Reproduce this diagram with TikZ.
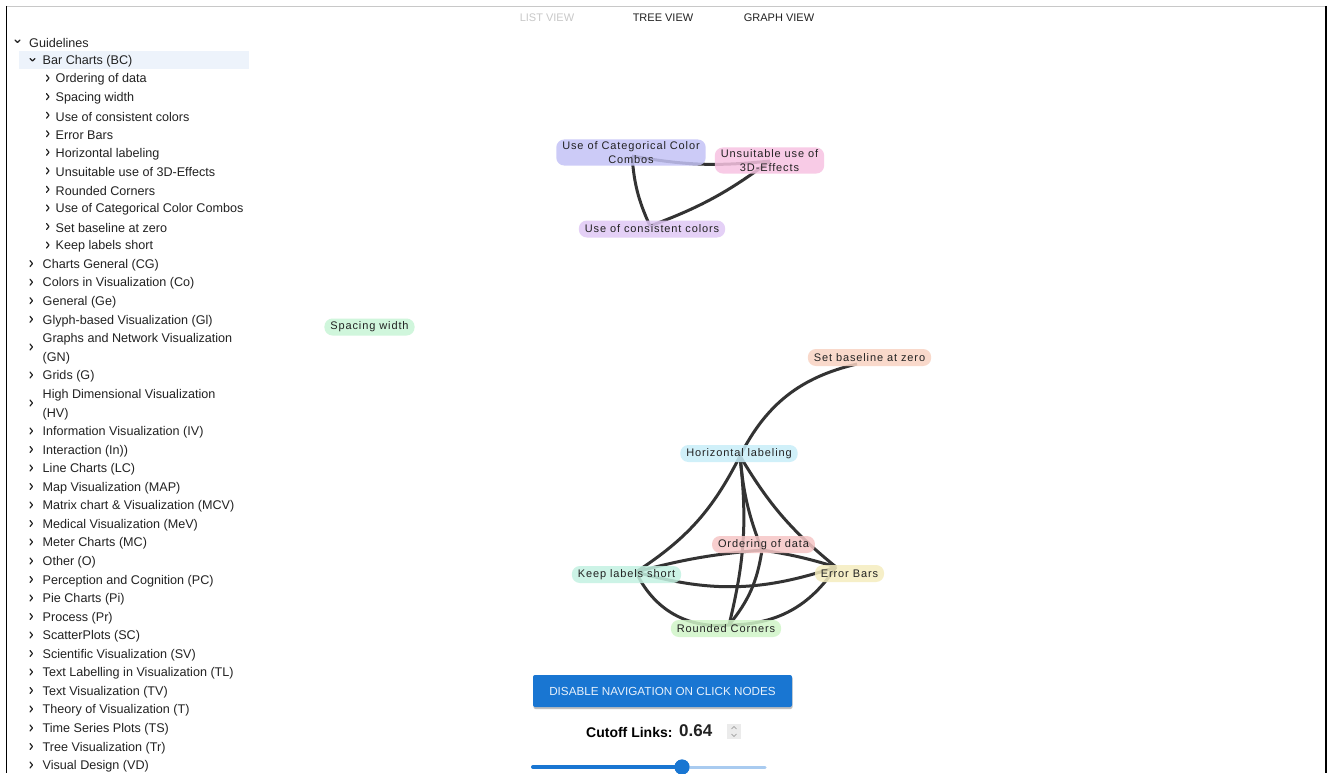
\documentclass[tikz,border=0pt]{standalone}
\usepackage{fontspec}
\setmainfont{Liberation Sans}
\newfontfamily\gfont[LetterSpace=8]{Liberation Sans}
\definecolor{txt}{HTML}{222222}
\definecolor{hlrow}{HTML}{EDF3FB}
\definecolor{edgec}{HTML}{333333}
\definecolor{cCat}{HTML}{C4C3F6}
\definecolor{cUns}{HTML}{F7C3E2}
\definecolor{cCons}{HTML}{E0C8F5}
\definecolor{cSpace}{HTML}{C8F5D6}
\definecolor{cSet}{HTML}{F8D3C3}
\definecolor{cHL}{HTML}{C8EEF9}
\definecolor{cOrd}{HTML}{F6C6C6}
\definecolor{cKeep}{HTML}{C4F2E2}
\definecolor{cErr}{HTML}{F5EDBF}
\definecolor{cRound}{HTML}{D0F5C8}
\definecolor{btnblue}{HTML}{1976D2}
\definecolor{btntxt}{HTML}{E6F0FB}
\definecolor{trackl}{HTML}{A9CBF0}
\definecolor{tabgray}{HTML}{C8C8C8}
\begin{document}
\begin{tikzpicture}[x=1pt,y=-1pt,
  treetxt/.style={anchor=west,inner sep=0pt,yshift=-1.5pt,text=txt,font=\fontsize{12.6}{15}\selectfont},
  tabtxt/.style={inner sep=0pt,font=\fontsize{11}{13}\selectfont},
  chev/.style={draw=txt,line width=1.2pt,line cap=round,line join=round},
  gn/.style={rounded corners=8pt,inner xsep=6pt,inner ysep=2pt,minimum height=17pt,
     fill opacity=0.85,text opacity=1,text=txt,align=center,
     font=\gfont\fontsize{11}{14}\selectfont},
  link/.style={draw=edgec,line width=3pt}]
\useasboundingbox (0,0) rectangle (1329,773);
\fill[white] (0,0) rectangle (1329,773);
% frame
\draw[tabgray,line width=1pt] (6,6.5) -- (1326,6.5);
\draw[black,line width=1.3pt] (6.5,6) -- (6.5,773);
\draw[black,line width=1.3pt] (1326,6) -- (1326,773);
% tabs
\node[tabtxt,text=tabgray] (tlist) at (547,18) {LIST VIEW};
\node[tabtxt,text=txt] (ttree) at (663,18) {TREE VIEW};
\node[tabtxt,text=txt] (tgraph) at (779,18) {GRAPH VIEW};
% tree
\fill[hlrow] (19,51) rectangle (249,69);
\draw[chev] (15,40) -- (17.5,42.5) -- (20,40);
\node[treetxt] (tg) at (29,41) {Guidelines};
\draw[chev] (30,58.5) -- (32.5,61) -- (35,58.5);
\node[treetxt] (tbc) at (42.5,59.5) {Bar Charts (BC)};
\foreach \t [count=\i from 2] in {Ordering of data,Spacing width,Use of consistent colors,Error Bars,Horizontal labeling,Unsuitable use of 3D-Effects,Rounded Corners,Use of Categorical Color Combos,Set baseline at zero,Keep labels short}{
  \pgfmathsetmacro{\yy}{41+18.55*\i}
  \draw[chev] (46.5,\yy-3) -- (49,\yy) -- (46.5,\yy+3);
  \node[treetxt] (ts\i) at (55.5,\yy) {\t};
}
\foreach \yy/\t [count=\i] in {263.6/Charts General (CG),282.2/Colors in Visualization (Co),300.7/General (Ge),319.3/Glyph-based Visualization (Gl),375/Grids (G),431/Information Visualization (IV),449.5/Interaction (In)),468/Line Charts (LC),486.5/Map Visualization (MAP),505/Matrix chart \& Visualization (MCV),523.5/Medical Visualization (MeV),542/Meter Charts (MC),561/Other (O),579.5/Perception and Cognition (PC),598/Pie Charts (Pi),616.5/Process (Pr),635/ScatterPlots (SC),653.5/Scientific Visualization (SV),672/Text Labelling in Visualization (TL),690.5/Text Visualization (TV),709/Theory of Visualization (T),728/Time Series Plots (TS),746.5/Tree Visualization (Tr),765/Visual Design (VD)}{
  \draw[chev] (30,\yy-3) -- (32.5,\yy) -- (30,\yy+3);
  \node[treetxt] (tc\i) at (42.5,\yy) {\t};
}
\draw[chev] (30,344) -- (32.5,347) -- (30,350);
\node[treetxt] (tgn1) at (42.5,338) {Graphs and Network Visualization};
\node[treetxt] (tgn2) at (42.5,356.5) {(GN)};
\draw[chev] (30,400) -- (32.5,403) -- (30,406);
\node[treetxt] (thv1) at (42.5,394) {High Dimensional Visualization};
\node[treetxt] (thv2) at (42.5,412.5) {(HV)};
% graph anchors
\coordinate (aCat) at (632,156);
\coordinate (aUns) at (770,161);
\coordinate (aCons) at (650,226);
\coordinate (aSet) at (857,364);
\coordinate (aHL) at (740,456);
\coordinate (aOrd) at (762,550);
\coordinate (aKeep) at (636,572);
\coordinate (aErr) at (836,567);
\coordinate (aRound) at (729,625);
% links
\draw[link] (aCat) to[bend right=10] (aCons);
\draw[link] (aUns) to[bend left=8] (aCons);
\draw[link] (aCat) to[bend right=8] (aUns);
\draw[link] (aSet) to[bend right=25] (aHL);
\draw[link] (aHL) to[bend left=15] (aKeep);
\draw[link] (aHL) to[bend left=10] (aRound);
\draw[link] (aHL) to[bend right=8] (aOrd);
\draw[link] (aHL) to[bend right=10] (aErr);
\draw[link] (aOrd) to[bend left=15] (aRound);
\draw[link] (aOrd) to[bend left=4] (aErr);
\draw[link] (aKeep) to[bend left=5] (aOrd);
\draw[link] (aKeep) to[bend right=17] (aErr);
\draw[link] (aKeep) to[bend right=35] (aRound);
\draw[link] (aErr) to[bend left=28] (aRound);
% graph nodes
\node[gn,fill=cCat] (cat) at (631,152.5) {Use of Categorical Color\\Combos};
\node[gn,fill=cUns] (uns) at (769.5,160.5) {Unsuitable use of\\3D-Effects};
\node[gn,fill=cCons] (cons) at (652,229) {Use of consistent colors};
\node[gn,fill=cSpace] (space) at (369.5,327) {Spacing width};
\node[gn,fill=cSet] (set) at (869.5,357.5) {Set baseline at zero};
\node[gn,fill=cHL] (hl) at (739,453.5) {Horizontal labeling};
\node[gn,fill=cOrd] (ord) at (763.5,544.5) {Ordering of data};
\node[gn,fill=cKeep] (keep) at (626.5,574.5) {Keep labels short};
\node[gn,fill=cErr] (err) at (849.5,573.5) {Error Bars};
\node[gn,fill=cRound] (round) at (726,628.5) {Rounded Corners};
% button
\fill[black!25,rounded corners=2pt] (533.5,676.5) rectangle (792.5,709);
\node[fill=btnblue,rounded corners=2pt,minimum width=259pt,minimum height=32pt,inner sep=0pt,
  text=btntxt,font=\fontsize{11.7}{14}\selectfont] (btn) at (662.5,691) {DISABLE NAVIGATION ON CLICK NODES};
% cutoff
\node[inner sep=0pt,anchor=west,text=black,font=\bfseries\fontsize{14}{16}\selectfont] (cut) at (586,732.5) {Cutoff Links:};
\node[inner sep=0pt,anchor=west,text=txt,font=\bfseries\fontsize{17}{19}\selectfont] (val) at (679,731) {0.64};
\node[fill=black!8,minimum width=14pt,minimum height=15pt,inner sep=0pt] (spin) at (734,731.5) {};
\draw[black!45,line width=0.6pt] (731.5,729) -- (734,726.5) -- (736.5,729);
\draw[black!45,line width=0.6pt] (731.5,734) -- (734,736.5) -- (736.5,734);
% slider
\coordinate (sl0) at (533,767);
\coordinate (sl1) at (765,767);
\node[circle,fill=btnblue,minimum size=15pt,inner sep=0pt] (thumb) at (682,767) {};
\draw[trackl,line width=3pt,line cap=round] (thumb.center) -- (sl1);
\draw[btnblue,line width=4pt,line cap=round] (sl0) -- (thumb.center);
\node[circle,fill=btnblue,minimum size=15pt,inner sep=0pt] at (thumb.center) {};
\end{tikzpicture}
\end{document}
